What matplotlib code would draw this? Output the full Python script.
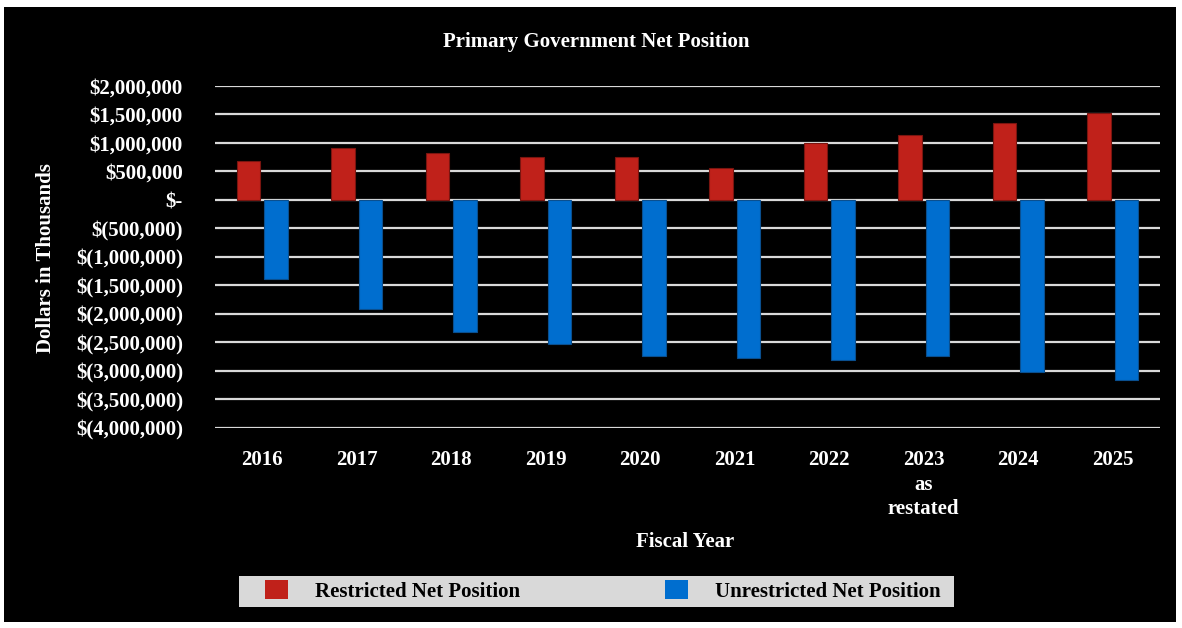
import matplotlib
matplotlib.use("Agg")
import matplotlib.pyplot as plt
import numpy as np
from matplotlib.patches import Rectangle, Patch

# data (dollars in thousands)
years = ["2016", "2017", "2018", "2019", "2020", "2021", "2022", "2023\nas\nrestated", "2024", "2025"]
restricted = [680000, 920000, 820000, 750000, 750000, 570000, 995000, 1135000, 1345000, 1520000]
unrestricted = [-1390000, -1920000, -2310000, -2520000, -2730000, -2770000, -2800000, -2730000, -3010000, -3150000]
yticks = [2000000, 1500000, 1000000, 500000, 0, -500000, -1000000, -1500000, -2000000,
          -2500000, -3000000, -3500000, -4000000]
ytick_labels = ["$2,000,000", "$1,500,000", "$1,000,000", "$500,000", "$-", "$(500,000)",
                "$(1,000,000)", "$(1,500,000)", "$(2,000,000)", "$(2,500,000)",
                "$(3,000,000)", "$(3,500,000)", "$(4,000,000)"]

plt.rcParams['font.family'] = ['Liberation Serif', 'DejaVu Serif']
plt.rcParams['font.weight'] = 'bold'

red = '#c0211a'
blue = '#006ecf'
W, H = 1182, 628

fig = plt.figure(figsize=(11.82, 6.28), dpi=100)
fig.patch.set_facecolor('white')
# black chart area inside a thin white margin
fig.patches.append(Rectangle((4 / W, 1 - 622 / H), 1172 / W, 615 / H, transform=fig.transFigure,
                             facecolor='black', edgecolor='none', zorder=-2))
# legend background
fig.patches.append(Rectangle((239 / W, 1 - 607 / H), 715 / W, 31 / H, transform=fig.transFigure,
                             facecolor='#d9d9d9', edgecolor='none', zorder=-1))

ax = fig.add_axes([215 / W, 1 - 428 / H, 945 / W, 342 / H])
ax.set_facecolor('black')
x = np.arange(len(years))
ax.bar(x - 0.145, restricted, width=0.25, color=red, edgecolor='#7a1510', linewidth=0.8, zorder=3)
ax.bar(x + 0.145, unrestricted, width=0.25, color=blue, edgecolor='#0a4f8f', linewidth=0.8, zorder=3)

ax.set_xlim(-0.5, len(years) - 0.5)
ax.set_ylim(-4000000, 2000000)
ax.set_yticks(yticks)
ax.set_yticklabels(ytick_labels)
ax.set_xticks(x)
ax.set_xticklabels(years)
ax.yaxis.grid(True, color='#d9d9d9', linewidth=1.6, zorder=1)
ax.set_axisbelow(True)
for s in ax.spines.values():
    s.set_visible(False)
ax.tick_params(axis='y', length=0, pad=23, labelsize=15, labelcolor='white')
ax.tick_params(axis='x', length=0, pad=16, labelsize=15, labelcolor='white')
for lbl in ax.get_xticklabels() + ax.get_yticklabels():
    lbl.set_fontweight('bold')
for lbl in ax.get_xticklabels():
    lbl.set_verticalalignment('top')
    lbl.set_horizontalalignment('center')
    lbl.set_linespacing(1.3)

fig.text(596 / W, 1 - 42 / H, "Primary Government Net Position", color='white', fontsize=15,
         fontweight='bold', ha='center', va='center')
fig.text(46 / W, 1 - 258 / H, "Dollars in Thousands", color='white', fontsize=15,
         fontweight='bold', ha='center', va='center', rotation=90)
fig.text(685 / W, 1 - 542 / H, "Fiscal Year", color='white', fontsize=15,
         fontweight='bold', ha='center', va='center')

handles = [Patch(facecolor=red, edgecolor='none', label='Restricted Net Position'),
           Patch(facecolor=blue, edgecolor='none', label='Unrestricted Net Position')]
leg = fig.legend(handles=handles, ncol=2, loc='lower left',
                 bbox_to_anchor=(260 / W, 1 - 607 / H, 686 / W, 31 / H), mode='expand',
                 frameon=False, prop={'size': 15, 'weight': 'bold'},
                 handlelength=1.1, handleheight=1.06,
                 handletextpad=1.3, borderpad=0.25, borderaxespad=0, columnspacing=5)
for t in leg.get_texts():
    t.set_color('black')

fig.savefig('out.png', dpi=100, facecolor=fig.get_facecolor())
